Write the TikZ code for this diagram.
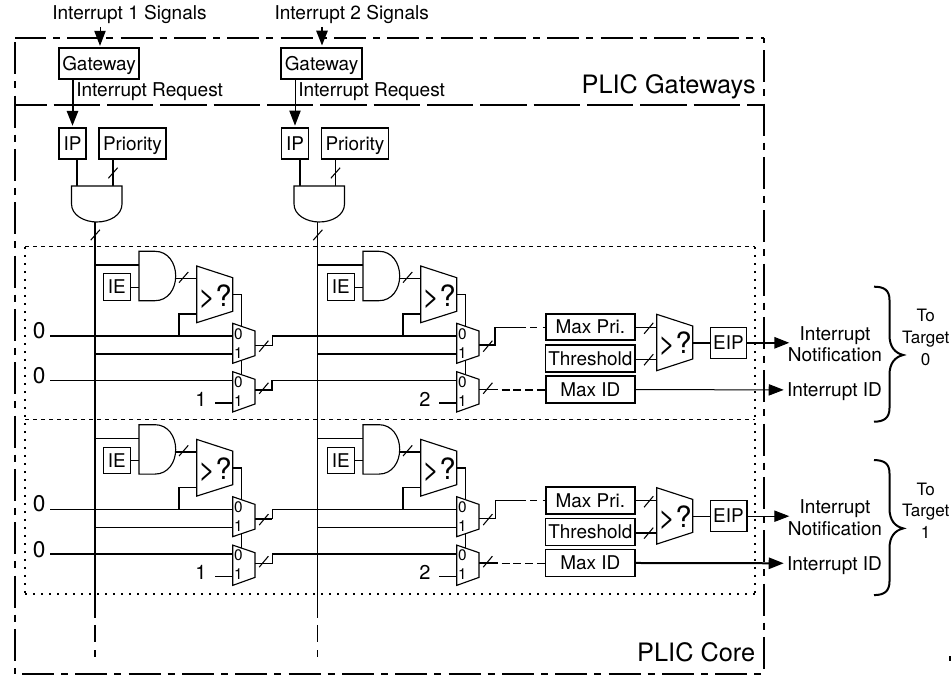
\documentclass[tikz,border=0pt]{standalone}
\usepackage{fontspec}
\setmainfont{TeX Gyre Heros}
\usetikzlibrary{arrows.meta}
\tikzset{
  thinwire/.style={line width=0.75pt},
  thickwire/.style={line width=1.5pt},
  tipwire/.style={-{Triangle[length=11.25pt,width=8.5pt]},shorten >=1.2pt},
  slash/.style={line width=0.8pt},
  gateshape/.style={draw,line width=0.85pt,fill=white},
  regbox/.style={draw,line width=0.8pt,fill=white,inner sep=0pt,font=\fontsize{14.2}{16}\selectfont,text height=10pt,text depth=0pt,minimum height=23.25pt},
  maxbox/.style={regbox,minimum width=67pt,minimum height=20pt},
  sigtext/.style={inner sep=0pt,font=\fontsize{14.3}{16}\selectfont},
  zerotext/.style={inner sep=0pt,font=\fontsize{17}{18}\selectfont},
  constext/.style={inner sep=0pt,font=\fontsize{15}{16}\selectfont},
  cmptext/.style={inner sep=0pt,font=\fontsize{22}{24}\selectfont},
  muxtext/.style={inner sep=0pt,font=\fontsize{11.5}{13}\selectfont},
  zonetext/.style={inner sep=0pt,font=\fontsize{19}{20}\selectfont},
  endtext/.style={inner sep=0pt,align=center,font=\fontsize{14.3}{16.3}\selectfont},
  targettext/.style={inner sep=0pt,align=center,font=\fontsize{12.8}{16.3}\selectfont},
  framethin/.style={line width=0.8pt,dash pattern=on 24pt off 5.25pt on 5.25pt off 5.5pt},
  framethick/.style={line width=1.5pt,dash pattern=on 24pt off 5.25pt on 5.25pt off 5.5pt},
  rowdash/.style={line width=0.75pt,dash pattern=on 3pt off 3pt},
  rowdot/.style={line width=1.5pt,dash pattern=on 1.5pt off 4.5pt},
}
\begin{document}
\begin{tikzpicture}[x=0.75pt,y=0.75pt,yscale=-1,xscale=1]
\useasboundingbox (0,0) rectangle (951,680);

%Dash Dot Frame
\draw [framethin,dash phase=0.75pt] (15,38) -- (764,38) ;
\draw [framethin,dash phase=36.75pt] (15,38) -- (15,674) ;
\draw [framethick,dash phase=30.75pt] (764,38) -- (764,674) ;
\draw [framethick,dash phase=34.7pt] (15,674) -- (764,674) ;
\draw [line width=1.5pt,dash pattern=on 34.75pt off 5.25pt,dash phase=11pt] (15,105) -- (764,105) ;
%Row Boxes
\draw [rowdash] (25,247) -- (755,247) ;
\draw [rowdash] (25,420) -- (755,420) ;
\draw [rowdot] (25,247) -- (25,594) ;
\draw [rowdot] (755,247) -- (755,594) ;
\draw [rowdot] (25,594) -- (755,594) ;

%Bus Lines
\coordinate (busone) at (95,222);
\coordinate (bustwo) at (317.5,222);
\draw [thickwire] (busone) -- (95,618.5) ;
\draw [thinwire] (bustwo) -- (317.5,618.5) ;
\draw [thickwire,dash pattern=on 12.5pt off 6.5pt] (95,625) -- (95,657) ;
\draw [thinwire,dash pattern=on 12.5pt off 6.5pt] (317.5,625) -- (317.5,657) ;

% Text Node
\node [sigtext,anchor=base] (sigone) at (129.5,20) {Interrupt 1 Signals};
\node [sigtext,anchor=base] (sigtwo) at (351.7,20) {Interrupt 2 Signals};
\node [sigtext,anchor=base west] (reqone) at (76,96.7) {Interrupt Request};
\node [sigtext,anchor=base west] (reqtwo) at (298,96.7) {Interrupt Request};
\node [zonetext,anchor=base east] (zonegw) at (756,93.5) {PLIC Gateways};
\node [zonetext,anchor=base east] (zonecore) at (755.5,661.7) {PLIC Core};

%Top Part Column 1
\node [regbox,minimum width=60pt] (gwone) at (99,63.5) {Gateway};
\node [regbox,minimum width=20.25pt] (ipone) at (72.5,143.5) {IP};
\node [regbox,minimum width=50.25pt] (prione) at (132.5,143.5) {Priority};
\coordinate (inone) at (100,27);
\coordinate (gatea) at (77,186);
\coordinate (gateb) at (113,186);
\draw [thinwire,tipwire] (inone) -- (inone |- gwone.north) ;
\draw [thickwire,tipwire] (gwone.south -| ipone) -- (ipone.north) ;
\draw [thickwire] (ipone.south -| gatea) -- (gatea) ;
\draw [thickwire] (prione.south -| gateb) -- (gateb) ;
\draw [slash] (113,173) +(-4.6,5.2) -- +(4.6,-5.2) ;
\draw [gateshape] (71.5,186) -- (122,186) -- (122,204) .. controls (122,215) and (110,222) .. (96.8,222) .. controls (84,222) and (71.5,215) .. (71.5,204) -- cycle ;
\draw [slash] (95.3,235) +(-4.6,5.2) -- +(4.6,-5.2) ;

%Top Part Column 2
\node [regbox,line width=1.3pt,minimum width=60.75pt] (gwtwo) at (321.5,63.5) {Gateway};
\node [regbox,line width=1.2pt,minimum width=20.25pt] (iptwo) at (295,143.5) {IP};
\node [regbox,minimum width=50.5pt] (pritwo) at (355,143.5) {Priority};
\coordinate (intwo) at (322,27);
\coordinate (gatec) at (300,186);
\coordinate (gated) at (335.5,186);
\draw [thickwire,tipwire] (intwo) -- (intwo |- gwtwo.north) ;
\draw [thinwire,tipwire] (gwtwo.south -| iptwo) -- (iptwo.north) ;
\draw [thickwire] (iptwo.south -| gatec) -- (gatec) ;
\draw [thinwire] (pritwo.south -| gated) -- (gated) ;
\draw [slash] (335.5,173) +(-4.6,5.2) -- +(4.6,-5.2) ;
\draw [gateshape] (294,186) -- (344.5,186) -- (344.5,204) .. controls (344.5,215) and (332.5,222) .. (319.3,222) .. controls (306.5,222) and (294,215) .. (294,204) -- cycle ;
\draw [slash] (317.8,235) +(-4.6,5.2) -- +(4.6,-5.2) ;

%Cell a
\begin{scope}
\node [regbox,minimum width=20pt,minimum height=20pt] (iea) at (116.7,287) {IE};
\coordinate (anda1) at (139,264.7); \coordinate (anda2) at (139,287.3);
\coordinate (andaout) at (175.7,278.3); \coordinate (cmpa1) at (196.7,278.3);
\coordinate (cmpa2) at (196.7,313.7); \coordinate (cmpaout) at (232.7,294.3);
\coordinate (joina) at (179,336); \coordinate (seltopa) at (241.7,374.7);
\coordinate (rowa) at (50,336); \coordinate (rowlowa) at (50,380.3);
\coordinate (muxa0) at (232.7,336); \coordinate (muxa1) at (232.7,354);
\coordinate (lowa0) at (232.7,380.3); \coordinate (lowa1) at (232.7,402.7);
\coordinate (muxaout) at (255,345.3); \coordinate (lowaout) at (255,390);
\coordinate (conta) at (215,402.7);
\draw [thickwire] (anda1 -| busone) -- (anda1) ;
\draw [thinwire] (iea.east |- anda2) -- (anda2) ;
\draw [thinwire] (andaout) -- (cmpa1) ;
\draw [thinwire] (cmpaout) -| (seltopa) ;
\draw [thickwire] (cmpa2) -| (joina) ;
\draw [thickwire] (rowa) -- (muxa0) ;
\draw [thickwire] (muxa1 -| busone) -- (muxa1) ;
\draw [thinwire] (rowlowa) -- (lowa0) ;
\draw [thickwire] (conta) -- (lowa1) ;
\draw [gateshape] (139,251.3) -- (155,251.3) .. controls (168,251.3) and (175.7,263) .. (175.7,276) .. controls (175.7,289) and (168,300.7) .. (155,300.7) -- (139,300.7) -- cycle ;
\draw [gateshape] (196.7,266) -- (232.7,277.7) -- (232.7,311.3) -- (196.7,322.7) -- cycle ;
\draw [gateshape] (232.7,323.3) -- (255,331) -- (255,355.7) -- (232.7,363.3) -- cycle ;
\draw [gateshape] (232.7,371.7) -- (255,379.3) -- (255,404) -- (232.7,412) -- cycle ;
\draw [slash] (183.65,277.3) +(-4.6,5.3) -- +(4.6,-5.3) ;
\draw [slash] (263.8,346.2) +(-4.6,5.5) -- +(4.6,-5.5) ;
\draw [slash] (263.8,388.3) +(-4.6,5.5) -- +(4.6,-5.5) ;
\node [cmptext] (cmplaba) at (215,296.7) {>?};
\node [muxtext] (muxlaba0) at (238.3,334) {0};
\node [muxtext] (muxlaba1) at (238.3,353) {1};
\node [muxtext] (lowlaba0) at (238.3,381.7) {0};
\node [muxtext] (lowlaba1) at (238.3,401) {1};
\node [zerotext] (zeroa) at (39.3,330.7) {0};
\node [zerotext] (zerolowa) at (39.3,376) {0};
\node [constext] (cona) at (201,399.3) {1};
\end{scope}

%Cell b
\begin{scope}[shift={(224,0)}]
\node [regbox,minimum width=20pt,minimum height=20pt] (ieb) at (116.7,287) {IE};
\coordinate (andb1) at (139,264.7); \coordinate (andb2) at (139,287.3);
\coordinate (andbout) at (175.7,278.3); \coordinate (cmpb1) at (196.7,278.3);
\coordinate (cmpb2) at (196.7,313.7); \coordinate (cmpbout) at (232.7,294.3);
\coordinate (joinb) at (179,336); \coordinate (seltopb) at (241.7,374.7);
\coordinate (muxb0) at (232.7,336); \coordinate (muxb1) at (232.7,354);
\coordinate (lowb0) at (232.7,380.3); \coordinate (lowb1) at (232.7,402.7);
\coordinate (muxbout) at (255,345.3); \coordinate (lowbout) at (255,390);
\coordinate (contb) at (215,402.7);
\draw [thickwire] (andb1 -| bustwo) -- (andb1) ;
\draw [thinwire] (ieb.east |- andb2) -- (andb2) ;
\draw [thinwire] (andbout) -- (cmpb1) ;
\draw [thinwire] (cmpbout) -| (seltopb) ;
\draw [thickwire] (cmpb2) -| (joinb) ;
\draw [thickwire] (muxb1 -| bustwo) -- (muxb1) ;
\draw [thickwire] (contb) -- (lowb1) ;
\draw [gateshape] (139,251.3) -- (155,251.3) .. controls (168,251.3) and (175.7,263) .. (175.7,276) .. controls (175.7,289) and (168,300.7) .. (155,300.7) -- (139,300.7) -- cycle ;
\draw [gateshape] (196.7,266) -- (232.7,277.7) -- (232.7,311.3) -- (196.7,322.7) -- cycle ;
\draw [gateshape] (232.7,323.3) -- (255,331) -- (255,355.7) -- (232.7,363.3) -- cycle ;
\draw [gateshape] (232.7,371.7) -- (255,379.3) -- (255,404) -- (232.7,412) -- cycle ;
\draw [slash] (183.65,277.3) +(-4.6,5.3) -- +(4.6,-5.3) ;
\draw [slash] (263.8,346.2) +(-4.6,5.5) -- +(4.6,-5.5) ;
\draw [slash] (263.8,388.3) +(-4.6,5.5) -- +(4.6,-5.5) ;
\node [cmptext] (cmplabb) at (215,296.7) {>?};
\node [muxtext] (muxlabb0) at (238.3,334) {0};
\node [muxtext] (muxlabb1) at (238.3,353) {1};
\node [muxtext] (lowlabb0) at (238.3,381.7) {0};
\node [muxtext] (lowlabb1) at (238.3,401) {1};
\node [constext] (conb) at (201,399.3) {2};
\end{scope}

%Cell c
\begin{scope}[shift={(0,173.4)}]
\node [regbox,minimum width=20pt,minimum height=20pt] (iec) at (116.7,287) {IE};
\coordinate (andc1) at (139,264.7); \coordinate (andc2) at (139,287.3);
\coordinate (andcout) at (175.7,278.3); \coordinate (cmpc1) at (196.7,278.3);
\coordinate (cmpc2) at (196.7,313.7); \coordinate (cmpcout) at (232.7,294.3);
\coordinate (joinc) at (179,336); \coordinate (seltopc) at (241.7,374.7);
\coordinate (rowc) at (50,336); \coordinate (rowlowc) at (50,380.3);
\coordinate (muxc0) at (232.7,336); \coordinate (muxc1) at (232.7,354);
\coordinate (lowc0) at (232.7,380.3); \coordinate (lowc1) at (232.7,402.7);
\coordinate (muxcout) at (255,345.3); \coordinate (lowcout) at (255,390);
\coordinate (contc) at (215,402.7);
\draw [thinwire] (andc1 -| busone) -- (andc1) ;
\draw [thinwire] (iec.east |- andc2) -- (andc2) ;
\draw [thickwire] (andcout) -- (cmpc1) ;
\draw [thickwire] (cmpcout) -- (cmpcout -| seltopc) ;
\draw [thinwire] (cmpcout -| seltopc) -- (seltopc) ;
\draw [thinwire] (cmpc2) -- (cmpc2 -| joinc) ;
\draw [thickwire] (cmpc2 -| joinc) -- (joinc) ;
\draw [thinwire] (rowc) -- (muxc0) ;
\draw [thinwire] (muxc1 -| busone) -- (muxc1) ;
\draw [thickwire] (rowlowc) -- (lowc0) ;
\draw [thinwire] (contc) -- (lowc1) ;
\draw [gateshape] (139,251.3) -- (155,251.3) .. controls (168,251.3) and (175.7,263) .. (175.7,276) .. controls (175.7,289) and (168,300.7) .. (155,300.7) -- (139,300.7) -- cycle ;
\draw [gateshape] (196.7,266) -- (232.7,277.7) -- (232.7,311.3) -- (196.7,322.7) -- cycle ;
\draw [gateshape] (232.7,323.3) -- (255,331) -- (255,355.7) -- (232.7,363.3) -- cycle ;
\draw [gateshape] (232.7,371.7) -- (255,379.3) -- (255,404) -- (232.7,412) -- cycle ;
\draw [slash] (183.65,277.3) +(-4.6,5.3) -- +(4.6,-5.3) ;
\draw [slash] (263.8,346.2) +(-4.6,5.5) -- +(4.6,-5.5) ;
\draw [slash] (263.8,388.3) +(-4.6,5.5) -- +(4.6,-5.5) ;
\node [cmptext] (cmplabc) at (215,296.7) {>?};
\node [muxtext] (muxlabc0) at (238.3,334) {0};
\node [muxtext] (muxlabc1) at (238.3,353) {1};
\node [muxtext] (lowlabc0) at (238.3,381.7) {0};
\node [muxtext] (lowlabc1) at (238.3,401) {1};
\node [zerotext] (zeroc) at (39.3,330.7) {0};
\node [zerotext] (zerolowc) at (39.3,376) {0};
\node [constext] (conc) at (201,399.3) {1};
\end{scope}

%Cell d
\begin{scope}[shift={(224,173.4)}]
\node [regbox,minimum width=20pt,minimum height=20pt] (ied) at (116.7,287) {IE};
\coordinate (andd1) at (139,264.7); \coordinate (andd2) at (139,287.3);
\coordinate (anddout) at (175.7,278.3); \coordinate (cmpd1) at (196.7,278.3);
\coordinate (cmpd2) at (196.7,313.7); \coordinate (cmpdout) at (232.7,294.3);
\coordinate (joind) at (179,336); \coordinate (seltopd) at (241.7,374.7);
\coordinate (muxd0) at (232.7,336); \coordinate (muxd1) at (232.7,354);
\coordinate (lowd0) at (232.7,380.3); \coordinate (lowd1) at (232.7,402.7);
\coordinate (muxdout) at (255,345.3); \coordinate (lowdout) at (255,390);
\coordinate (contd) at (215,402.7);
\draw [thinwire] (andd1 -| bustwo) -- (andd1) ;
\draw [thinwire] (ied.east |- andd2) -- (andd2) ;
\draw [thickwire] (anddout) -- (cmpd1) ;
\draw [thickwire] (cmpdout) -- (cmpdout -| seltopd) ;
\draw [thinwire] (cmpdout -| seltopd) -- (seltopd) ;
\draw [thinwire] (cmpd2) -- (cmpd2 -| joind) ;
\draw [thickwire] (cmpd2 -| joind) -- (joind) ;
\draw [thinwire] (muxd1 -| bustwo) -- (muxd1) ;
\draw [thinwire] (contd) -- (lowd1) ;
\draw [gateshape] (139,251.3) -- (155,251.3) .. controls (168,251.3) and (175.7,263) .. (175.7,276) .. controls (175.7,289) and (168,300.7) .. (155,300.7) -- (139,300.7) -- cycle ;
\draw [gateshape] (196.7,266) -- (232.7,277.7) -- (232.7,311.3) -- (196.7,322.7) -- cycle ;
\draw [gateshape] (232.7,323.3) -- (255,331) -- (255,355.7) -- (232.7,363.3) -- cycle ;
\draw [gateshape] (232.7,371.7) -- (255,379.3) -- (255,404) -- (232.7,412) -- cycle ;
\draw [slash] (183.65,277.3) +(-4.6,5.3) -- +(4.6,-5.3) ;
\draw [slash] (263.8,346.2) +(-4.6,5.5) -- +(4.6,-5.5) ;
\draw [slash] (263.8,388.3) +(-4.6,5.5) -- +(4.6,-5.5) ;
\node [cmptext] (cmplabd) at (215,296.7) {>?};
\node [muxtext] (muxlabd0) at (238.3,334) {0};
\node [muxtext] (muxlabd1) at (238.3,353) {1};
\node [muxtext] (lowlabd0) at (238.3,381.7) {0};
\node [muxtext] (lowlabd1) at (238.3,401) {1};
\node [constext] (cond) at (201,399.3) {2};
\end{scope}

%Target 0
\begin{scope}
\node [maxbox,line width=1.3pt] (maxpria) at (590.35,327) {Max Pri.};
\node [maxbox,line width=1.2pt] (thresa) at (590.35,358.5) {Threshold};
\node [maxbox,line width=1.3pt] (maxida) at (590.35,389.5) {Max ID};
\coordinate (cmpra1) at (656.7,327.3); \coordinate (cmpra2) at (656.7,359.3);
\coordinate (cmpraout) at (692.7,342.8); \coordinate (nota) at (789.3,342.8);
\coordinate (bendra) at (495.3,327.3); \coordinate (solida) at (526,327.3);
\coordinate (bendla) at (272.3,336); \coordinate (bendlb) at (272.3,380.3);
\coordinate (dasha) at (498,390);
\draw [thinwire] (muxaout) -| (bendla) ;
\draw [thickwire] (bendla) -- (muxb0) ;
\draw [thickwire] (lowaout) -| (bendlb) ;
\draw [thinwire] (bendlb) -- (lowb0) ;
\draw [thickwire] (muxbout) -| (bendra) ;
\draw [thinwire] (bendra) -- (solida) ;
\draw [thinwire,dash pattern=on 5pt off 4.5pt,dash phase=6.5pt] (solida) -- (maxpria.west |- solida) ;
\draw [thinwire] (lowbout) -- (dasha) ;
\draw [thickwire,dash pattern=on 6pt off 2.8pt,dash phase=6pt] (dasha) -- (maxida.west |- dasha) ;
\draw [thinwire] (maxpria.east |- cmpra1) -- (cmpra1) ;
\draw [thinwire] (thresa.east |- cmpra2) -- (cmpra2) ;
\draw [gateshape] (656.7,314.3) -- (692.7,326) -- (692.7,359) -- (656.7,370.7) -- cycle ;
\node [regbox,minimum width=27.3pt] (eipa) at (728.5,342.8) {EIP};
\draw [thickwire] (cmpraout) -- (eipa.west) ;
\draw [thickwire,tipwire,shorten >=0pt] (eipa.east) -- (nota) ;
\draw [slash] (648.7,328.3) +(-4.6,5.5) -- +(4.6,-5.5) ;
\draw [slash] (648.7,359.7) +(-4.6,5.5) -- +(4.6,-5.5) ;
\node [cmptext] (cmplabe) at (675,344) {>?};
\node [endtext] (notea) at (835,344.2) {Interrupt\\Notification};
\node [endtext,inner sep=2.25pt,text height=10pt,text depth=0pt] (ida) at (834.5,390) {Interrupt ID};
\draw [thinwire,tipwire,shorten >=0pt] (maxida) -- (ida) ;
\draw [line width=1.5pt] (874,286.7) .. controls (884,286.7) and (889.5,290) .. (889.5,300) -- (889.5,335) .. controls (889.5,347) and (895,353) .. (903.3,355) .. controls (895,357) and (889.5,363) .. (889.5,375) -- (889.5,408) .. controls (889.5,418) and (884,421.7) .. (874,421.7) ;
\node [targettext] (targeta) at (925.7,337.2) {To\\Target\\0};
\end{scope}

%Target 1
\begin{scope}[shift={(0,173.4)}]
\node [maxbox,line width=1.3pt] (maxpric) at (590.35,327) {Max Pri.};
\node [maxbox] (thresc) at (590.35,358.5) {Threshold};
\node [maxbox] (maxidc) at (590.35,389.5) {Max ID};
\coordinate (cmprc1) at (656.7,327.3); \coordinate (cmprc2) at (656.7,359.3);
\coordinate (cmprcout) at (692.7,342.8); \coordinate (notc) at (789.3,342.8);
\coordinate (bendrc) at (495.3,327.3); \coordinate (solidc) at (526,327.3);
\coordinate (bendlc) at (272.3,336); \coordinate (bendld) at (272.3,380.3);
\coordinate (dashc) at (498,390);
\draw [thickwire] (muxcout) -- (muxcout -| bendlc) ;
\draw [thinwire] (muxcout -| bendlc) -- (bendlc) -- (muxd0) ;
\draw [thinwire] (lowcout) -| (bendld) ;
\draw [thickwire] (bendld) -- (lowd0) ;
\draw [thinwire] (muxdout) -| (bendrc) ;
\draw [thinwire] (bendrc) -- (solidc) ;
\draw [thinwire,dash pattern=on 5pt off 4.5pt,dash phase=6.5pt] (solidc) -- (maxpric.west |- solidc) ;
\draw [thickwire] (lowdout) -- (dashc) ;
\draw [thinwire,dash pattern=on 6pt off 2.8pt,dash phase=6pt] (dashc) -- (maxidc.west |- dashc) ;
\draw [thinwire] (maxpric.east |- cmprc1) -- (cmprc1) ;
\draw [thickwire] (thresc.east |- cmprc2) -- (cmprc2) ;
\draw [gateshape] (656.7,314.3) -- (692.7,326) -- (692.7,359) -- (656.7,370.7) -- cycle ;
\node [regbox,line width=1.2pt,minimum width=27.3pt] (eipc) at (728.5,342.8) {EIP};
\draw [thinwire] (cmprcout) -- (eipc.west) ;
\draw [thinwire,tipwire,shorten >=0pt] (eipc.east) -- (notc) ;
\draw [slash] (648.7,328.3) +(-4.6,5.5) -- +(4.6,-5.5) ;
\draw [slash] (648.7,359.7) +(-4.6,5.5) -- +(4.6,-5.5) ;
\node [cmptext] (cmplabf) at (675,344) {>?};
\node [endtext] (notec) at (835,344.2) {Interrupt\\Notification};
\node [endtext,inner sep=2.25pt,text height=10pt,text depth=0pt] (idc) at (834.5,390) {Interrupt ID};
\draw [thickwire,tipwire,shorten >=0pt] (maxidc) -- (idc) ;
\draw [line width=1.5pt] (874,286.7) .. controls (884,286.7) and (889.5,290) .. (889.5,300) -- (889.5,335) .. controls (889.5,347) and (895,353) .. (903.3,355) .. controls (895,357) and (889.5,363) .. (889.5,375) -- (889.5,408) .. controls (889.5,418) and (884,421.7) .. (874,421.7) ;
\node [targettext] (targetc) at (925.7,337.2) {To\\Target\\1};
\end{scope}

\fill (949,656) rectangle (951,661) ;
\end{tikzpicture}
\end{document}
